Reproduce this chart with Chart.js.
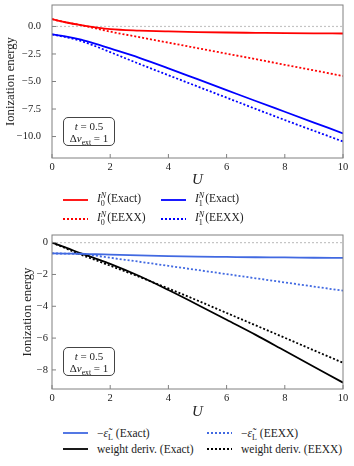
<!DOCTYPE html>
<html>
<head>
<meta charset="utf-8">
<script src="https://cdn.jsdelivr.net/npm/chart.js@4.4.1/dist/chart.umd.min.js"></script>
<style>
  body { margin: 0; background: #fff; width: 354px; height: 466px; position: relative; overflow: hidden;
         font-family: "Liberation Serif", "DejaVu Serif", serif; color: #222; }
  .cv { position: absolute; left: 0; }
  .box { position: absolute; border: 1px solid #444; border-radius: 5px; background: #fff;
         font-size: 11px; line-height: 12px; text-align: center; box-sizing: border-box; padding-top: 2px; }
  .leg { position: absolute; font-size: 11.5px; white-space: nowrap; }
  .leg svg { position: absolute; }
  .leg span.t { position: absolute; transform: translateY(-50%); }
  .ss { display: inline-block; vertical-align: -0.45em; font-size: 70%; line-height: 1.05; margin-right: 1px; }
  .ss > span { display: block; }
  i { font-style: italic; }
  sub, sup { font-size: 70%; line-height: 0; }
</style>
</head>
<body>
<div class="cv" style="top:0;width:354px;height:190px"><canvas id="top"></canvas></div>
<div class="cv" style="top:228px;width:354px;height:194px"><canvas id="bottom"></canvas></div>
<div class="box" style="left:63px;top:117px;width:52px;height:29px"><i>t</i> = 0.5<br>Δ<i>v</i><sub>ext</sub> = 1</div>
<div class="box" style="left:63px;top:347px;width:52px;height:29px"><i>t</i> = 0.5<br>Δ<i>v</i><sub>ext</sub> = 1</div>
<div id="leg1" class="leg" style="left:0;top:0"></div>
<div id="leg2" class="leg" style="left:0;top:0"></div>
<script>
// U values shared by all curves
const U = [0, 0.5, 1, 1.5, 2, 3, 4, 5, 6, 7, 8, 9, 10];

// top panel
const i0Exact = [0.66, 0.36, 0.12, -0.08, -0.24, -0.37, -0.45, -0.51, -0.55, -0.58, -0.61, -0.63, -0.64];
const i0Eexx  = [0.66, 0.36, 0.12, -0.17, -0.47, -0.97, -1.47, -1.97, -2.47, -2.97, -3.48, -3.99, -4.5];
const i1Exact = [-0.72, -0.92, -1.2, -1.58, -2.0, -2.85, -3.8, -4.79, -5.78, -6.77, -7.75, -8.73, -9.71];
const i1Eexx  = [-0.72, -0.98, -1.32, -1.8, -2.33, -3.4, -4.43, -5.45, -6.47, -7.49, -8.5, -9.48, -10.45];

// bottom panel
const epsExact = [-0.68, -0.69, -0.7, -0.73, -0.75, -0.8, -0.85, -0.88, -0.9, -0.92, -0.93, -0.95, -0.96];
const epsEexx  = [-0.68, -0.69, -0.72, -0.82, -0.95, -1.2, -1.46, -1.72, -1.98, -2.24, -2.5, -2.76, -3.02];
const wdExact  = [0, -0.33, -0.68, -1.0, -1.33, -2.1, -2.98, -3.9, -4.85, -5.8, -6.8, -7.8, -8.8];
const wdEexx   = [0, -0.38, -0.76, -1.1, -1.45, -2.15, -2.88, -3.64, -4.42, -5.2, -5.98, -6.77, -7.55];

const xTicks = [0, 2, 4, 6, 8, 10];
const yTicksTop = [0, -2.5, -5, -7.5, -10];
const yTicksBottom = [0, -2, -4, -6, -8];

const FONT = '"Liberation Serif", "DejaVu Serif", serif';
const pts = arr => U.map((u, i) => ({ x: u, y: arr[i] }));
const minus = s => s.replace('-', '\u2212');

function line(data, color, dotted) {
  return { data: pts(data), borderColor: color, borderWidth: 1.8, borderDash: dotted ? [2, 2] : [],
           pointRadius: 0, cubicInterpolationMode: 'monotone', fill: false };
}
function zeroLine() {
  return { data: [{ x: 0, y: 0 }, { x: 10, y: 0 }], borderColor: '#c4c4c4', borderWidth: 1.2,
           borderDash: [2, 2], pointRadius: 0, fill: false };
}

// frame on all four sides and short inward ticks
const framePlugin = {
  id: 'frame',
  afterDraw(chart) {
    const { ctx, chartArea: a, scales } = chart;
    ctx.save();
    ctx.strokeStyle = '#808080';
    ctx.lineWidth = 1;
    ctx.strokeRect(a.left, a.top, a.right - a.left, a.bottom - a.top);
    ctx.beginPath();
    scales.x.ticks.forEach(t => {
      const px = scales.x.getPixelForValue(t.value);
      ctx.moveTo(px, a.bottom); ctx.lineTo(px, a.bottom - 4);
    });
    scales.y.ticks.forEach(t => {
      const py = scales.y.getPixelForValue(t.value);
      ctx.moveTo(a.left, py); ctx.lineTo(a.left + 4, py);
    });
    ctx.stroke();
    ctx.restore();
  }
};

function makeChart(id, datasets, yMin, yMax, yTicks, fmt, opts) {
  return new Chart(document.getElementById(id), {
    type: 'line',
    data: { datasets },
    plugins: [framePlugin],
    options: {
      responsive: true, maintainAspectRatio: false, animation: false,
      layout: { padding: { left: 0, right: 11, top: opts.top, bottom: 0 } },
      plugins: { legend: { display: false }, tooltip: { enabled: false } },
      scales: {
        x: {
          type: 'linear', min: 0, max: 10,
          grid: { display: false, drawTicks: false }, border: { display: false },
          afterBuildTicks: s => { s.ticks = xTicks.map(v => ({ value: v })); },
          afterFit: s => { s.height = opts.xh; s.paddingLeft = s.paddingRight = 0; },
          ticks: { padding: 3, color: '#222', font: { family: FONT, size: 10.5 }, maxRotation: 0 },
          title: { display: true, text: 'U', color: '#222', padding: { bottom: 1, top: 0 },
                   font: { family: FONT, size: 15, style: 'italic' } }
        },
        y: {
          min: yMin, max: yMax,
          grid: { display: false, drawTicks: false }, border: { display: false },
          afterBuildTicks: s => { s.ticks = yTicks.map(v => ({ value: v })); },
          afterFit: s => { s.width = 52; s.paddingTop = s.paddingBottom = 0; },
          ticks: { padding: opts.yPad, color: '#222', font: { family: FONT, size: 10.5 }, callback: fmt },
          title: { display: true, text: 'Ionization energy', color: '#222', padding: { top: opts.titlePad },
                   font: { family: FONT, size: opts.titleSize } }
        }
      }
    }
  });
}

makeChart('top', [
  line(i0Exact, '#ff0000', false),
  line(i1Exact, '#0000ff', false),
  line(i0Eexx, '#ff0000', true),
  line(i1Eexx, '#0000ff', true),
  zeroLine()
], -11.95, 1.95, yTicksTop, v => minus(v.toFixed(1)), { top: 5, xh: 32, yPad: 11, titlePad: 3.5, titleSize: 12.7 });

makeChart('bottom', [
  line(epsExact, '#4169e1', false),
  line(wdExact, '#000000', false),
  line(epsEexx, '#4169e1', true),
  line(wdEexx, '#000000', true),
  zeroLine()
], -9.2, 0.48, yTicksBottom, v => minus(String(v)), { top: 7, xh: 33, yPad: 4, titlePad: 20.5, titleSize: 12.7 });

// legends
const iN = k => `<i>I</i><span class="ss"><span><i>N</i></span><span>${k}</span></span>`;
const epsL = '\u2212<i>\u03b5\u0303</i><sub>L</sub>';
const legendTop = [
  { html: iN(0) + '(Exact)', color: '#ff0000', dotted: false, x: 63, tx: 97, y: 200 },
  { html: iN(1) + '(Exact)', color: '#0000ff', dotted: false, x: 161, tx: 195, y: 200 },
  { html: iN(0) + '(EEXX)', color: '#ff0000', dotted: true, x: 63, tx: 97, y: 219 },
  { html: iN(1) + '(EEXX)', color: '#0000ff', dotted: true, x: 161, tx: 195, y: 219 }
];
const legendBottom = [
  { html: epsL + ' (Exact)', color: '#4169e1', dotted: false, x: 63, tx: 97, y: 433 },
  { html: epsL + ' (EEXX)', color: '#4169e1', dotted: true, x: 207, tx: 241, y: 433 },
  { html: 'weight deriv. (Exact)', color: '#000000', dotted: false, x: 63, tx: 97, y: 449 },
  { html: 'weight deriv. (EEXX)', color: '#000000', dotted: true, x: 207, tx: 241, y: 449 }
];
function buildLegend(id, items) {
  const el = document.getElementById(id);
  el.innerHTML = items.map(it =>
    `<svg width="26" height="4" style="left:${it.x}px;top:${it.y - 2}px"><line x1="0" y1="2" x2="25" y2="2" stroke="${it.color}" stroke-width="1.8" ${it.dotted ? 'stroke-dasharray="2,2"' : ''}/></svg>` +
    `<span class="t" style="left:${it.tx}px;top:${it.y}px">${it.html}</span>`).join('');
}
buildLegend('leg1', legendTop);
buildLegend('leg2', legendBottom);
</script>
</body>
</html>
